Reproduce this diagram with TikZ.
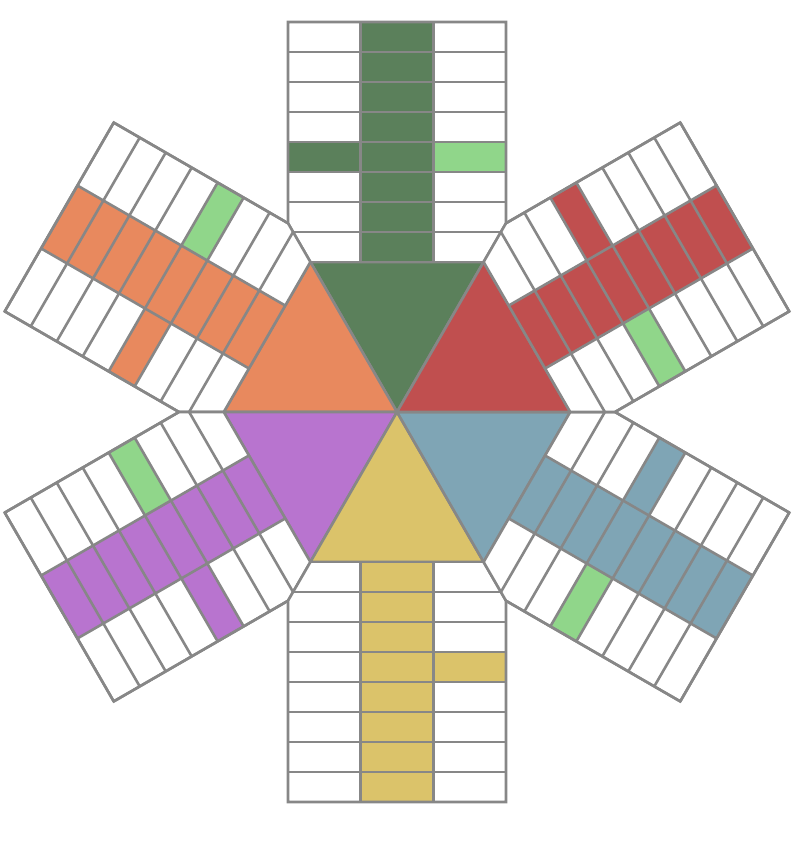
\documentclass[tikz,border=0pt]{standalone}
\definecolor{lineg}{HTML}{878787}
\definecolor{cgreen}{HTML}{5B805B}
\definecolor{corange}{HTML}{E8895E}
\definecolor{cred}{HTML}{C04F4F}
\definecolor{cpurple}{HTML}{B874CF}
\definecolor{cyellow}{HTML}{DBC36A}
\definecolor{cblue}{HTML}{7FA5B5}
\definecolor{clight}{HTML}{90D68A}
\begin{document}
\begin{tikzpicture}[x=1pt,y=1pt]
\tikzset{
  gridline/.style={draw=lineg, line width=2.6pt},
  tri/.style={gridline, line join=round}
}
\useasboundingbox (-397,-446) rectangle (403,412);
\foreach \ang/\col/\side in {90/cgreen/clight,150/corange/clight,210/cpurple/clight,270/cyellow/white,330/cblue/clight,30/cred/clight}{
  \begin{scope}[rotate=\ang-90]
    % centre triangle
    \filldraw[tri, fill=\col] (0,0) -- (60:173.2) -- (120:173.2) -- cycle;
    % arm cells
    \begin{scope}
      \clip (0,0) -- (60:700) -- (120:700) -- cycle;
      \fill[white] (-109,150) rectangle (109,390);
      \fill[\col] (-36.33,150) rectangle (36.33,390);
      \fill[\col] (-109,240) rectangle (-36.33,270);
      \fill[\side] (36.33,240) rectangle (109,270);
      \foreach \r in {0,...,8}{
        \draw[gridline] (-109,150+30*\r) -- (109,150+30*\r);
      }
      \foreach \c in {-109,-36.33,36.33,109}{
        \draw[gridline] (\c,150) -- (\c,390);
      }
    \end{scope}
    \draw[gridline] (-86.6,150) -- (-109,188.79) -- (-109,390) -- (109,390) -- (109,188.79) -- (86.6,150);
  \end{scope}
}
\end{tikzpicture}
\end{document}
